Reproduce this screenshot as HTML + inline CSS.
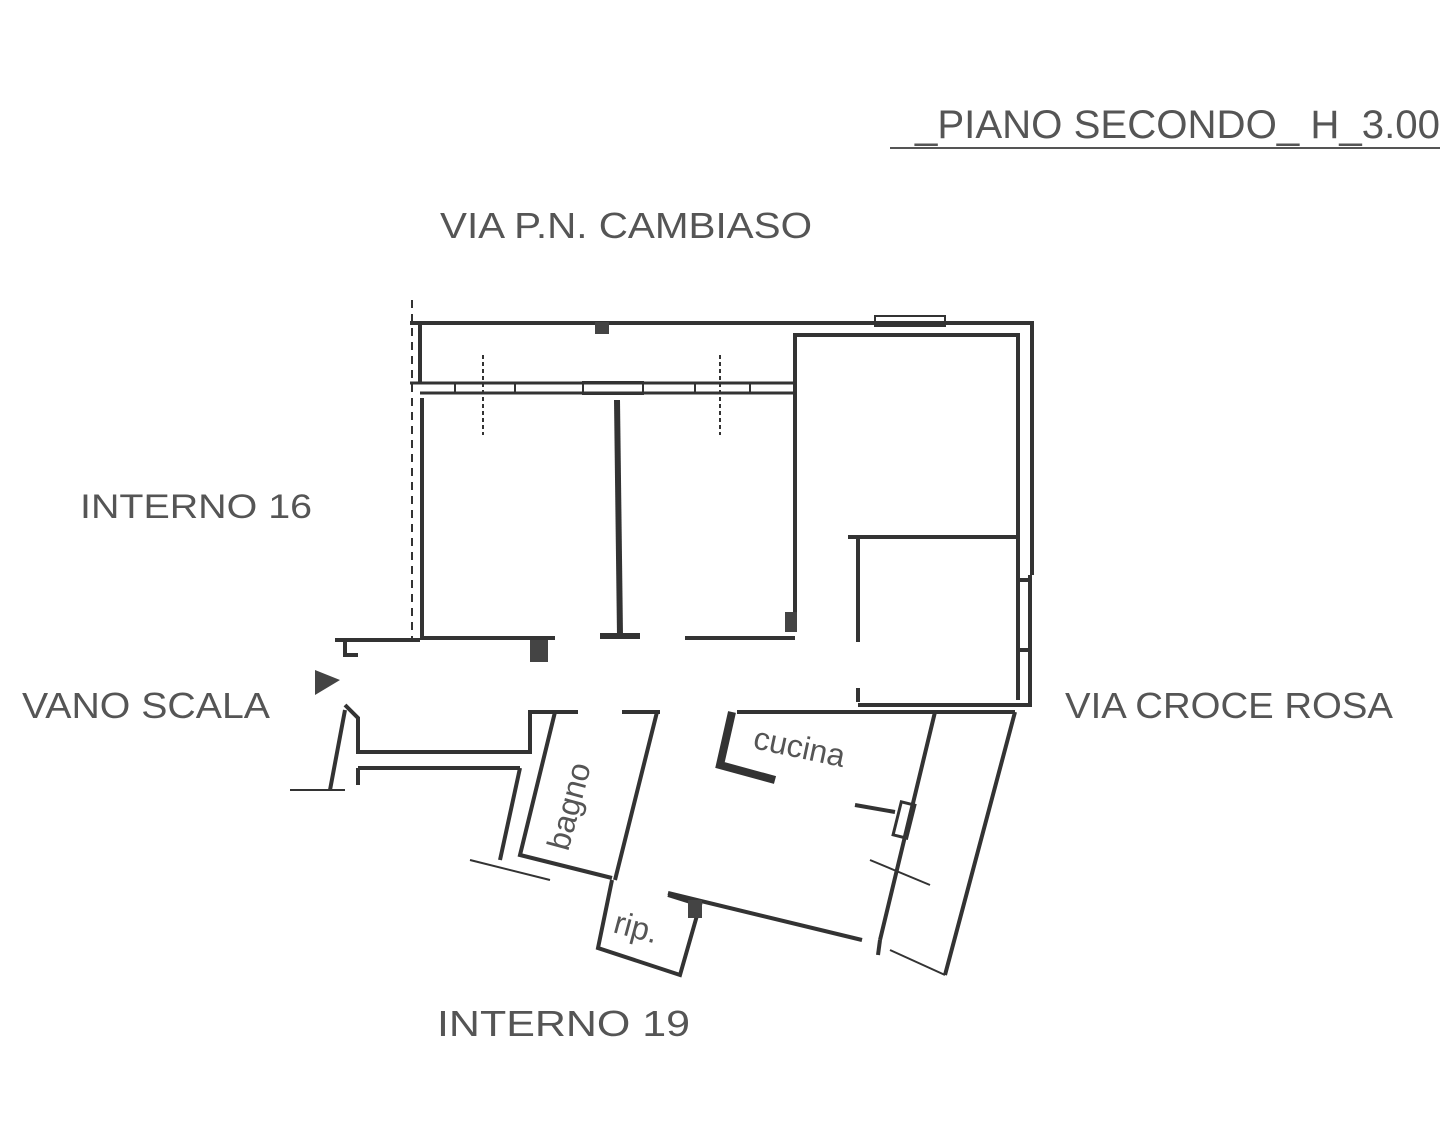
<!DOCTYPE html>
<html><head><meta charset="utf-8"><style>
html,body{margin:0;padding:0;background:#fff;}
svg{display:block}
text{font-family:"Liberation Sans",sans-serif;fill:#555;}
</style></head><body>
<svg width="1440" height="1123" viewBox="0 0 1440 1123" xmlns="http://www.w3.org/2000/svg">
<g font-size="40">
<text x="915" y="138" textLength="525" lengthAdjust="spacingAndGlyphs">_PIANO SECONDO_ H_3.00</text>
<text x="440" y="238" font-size="36" textLength="372" lengthAdjust="spacingAndGlyphs">VIA P.N. CAMBIASO</text>
<text x="80" y="518" font-size="34" textLength="232" lengthAdjust="spacingAndGlyphs">INTERNO 16</text>
<text x="22" y="718" font-size="36" textLength="248" lengthAdjust="spacingAndGlyphs">VANO SCALA</text>
<text x="1065" y="718" font-size="36" textLength="328" lengthAdjust="spacingAndGlyphs">VIA CROCE ROSA</text>
<text x="437" y="1036" font-size="36" textLength="253" lengthAdjust="spacingAndGlyphs">INTERNO  19</text>
</g>
<line x1="890" y1="148" x2="1440" y2="148" stroke="#555" stroke-width="2"/>
<g stroke="#333" fill="none" stroke-width="4">
<polyline points="410,323 1032,323 1032,575"/>
<line x1="420" y1="323" x2="420" y2="383"/>
<line x1="410" y1="383" x2="795" y2="383" stroke-width="3"/>
<line x1="420" y1="393" x2="795" y2="393" stroke-width="3"/>
<g stroke-width="2">
<line x1="455" y1="383" x2="455" y2="393"/><line x1="515" y1="383" x2="515" y2="393"/>
<rect x="583" y="382" width="60" height="12"/>
<line x1="695" y1="383" x2="695" y2="393"/><line x1="750" y1="383" x2="750" y2="393"/>
<rect x="875" y="316" width="70" height="10"/>
<line x1="483" y1="355" x2="483" y2="435" stroke-dasharray="4,3"/>
<line x1="720" y1="355" x2="720" y2="435" stroke-dasharray="4,3"/>
</g>
<line x1="412" y1="300" x2="412" y2="640" stroke-dasharray="8,6" stroke-width="2"/>
<polyline points="422,398 422,638 555,638"/>
<line x1="685" y1="638" x2="795" y2="638"/>
<line x1="617" y1="400" x2="620" y2="636" stroke-width="6"/>
<line x1="600" y1="636" x2="640" y2="636" stroke-width="6"/>
<polyline points="795,630 795,335 1018,335 1018,700"/>
<line x1="848" y1="537" x2="1018" y2="537"/>
<line x1="858" y1="537" x2="858" y2="642"/>
<line x1="858" y1="688" x2="858" y2="702"/>
<line x1="1030" y1="575" x2="1030" y2="705"/>
<line x1="1020" y1="580" x2="1032" y2="580"/>
<line x1="1020" y1="650" x2="1032" y2="650"/>
<polyline points="858,705 1032,705"/>
<polyline points="935,712 1015,712"/>
<polyline points="737,712 935,712 880,940"/>
<line x1="1015" y1="712" x2="945" y2="975"/>
<polyline points="668,893 862,940"/>
<polyline points="732,712 720,765 775,780" stroke-width="8"/>
<line x1="855" y1="805" x2="895" y2="812"/>
<rect x="897" y="803" width="14" height="34" transform="rotate(14 904 820)" stroke-width="3"/>
<line x1="870" y1="860" x2="930" y2="885" stroke-width="2"/>
<line x1="622" y1="712" x2="660" y2="712"/>
<line x1="657" y1="712" x2="615" y2="880"/>
<line x1="528" y1="712" x2="578" y2="712"/>
<polyline points="555,712 520,855 612,878"/>
<polyline points="612,880 598,948 680,975 700,905 668,895"/>
<polyline points="335,640 420,640"/>
<polyline points="345,640 345,655 358,655"/>
<polyline points="345,705 358,718 358,752 530,752 530,712"/>
<line x1="358" y1="768" x2="520" y2="768"/>
<line x1="358" y1="768" x2="358" y2="785"/>
<line x1="345" y1="710" x2="330" y2="790"/>
<line x1="290" y1="790" x2="345" y2="790" stroke-width="2"/>
<line x1="520" y1="768" x2="500" y2="860"/>
<line x1="470" y1="860" x2="550" y2="880" stroke-width="2"/>
<line x1="880" y1="940" x2="878" y2="955"/>
<line x1="890" y1="950" x2="945" y2="975" stroke-width="2"/>
</g>
<g fill="#444">
<rect x="595" y="322" width="14" height="12"/>
<rect x="530" y="640" width="18" height="22"/>
<rect x="785" y="612" width="12" height="20"/>
<rect x="688" y="900" width="14" height="18"/>
<polygon points="315,670 340,680 315,695"/>
</g>
<g font-size="32">
<text x="752" y="748" transform="rotate(12 752 748)">cucina</text>
<text x="568" y="852" transform="rotate(-75 568 852)">bagno</text>
<text x="612" y="932" transform="rotate(15 612 932)">rip.</text>
</g>
</svg>
</body></html>
